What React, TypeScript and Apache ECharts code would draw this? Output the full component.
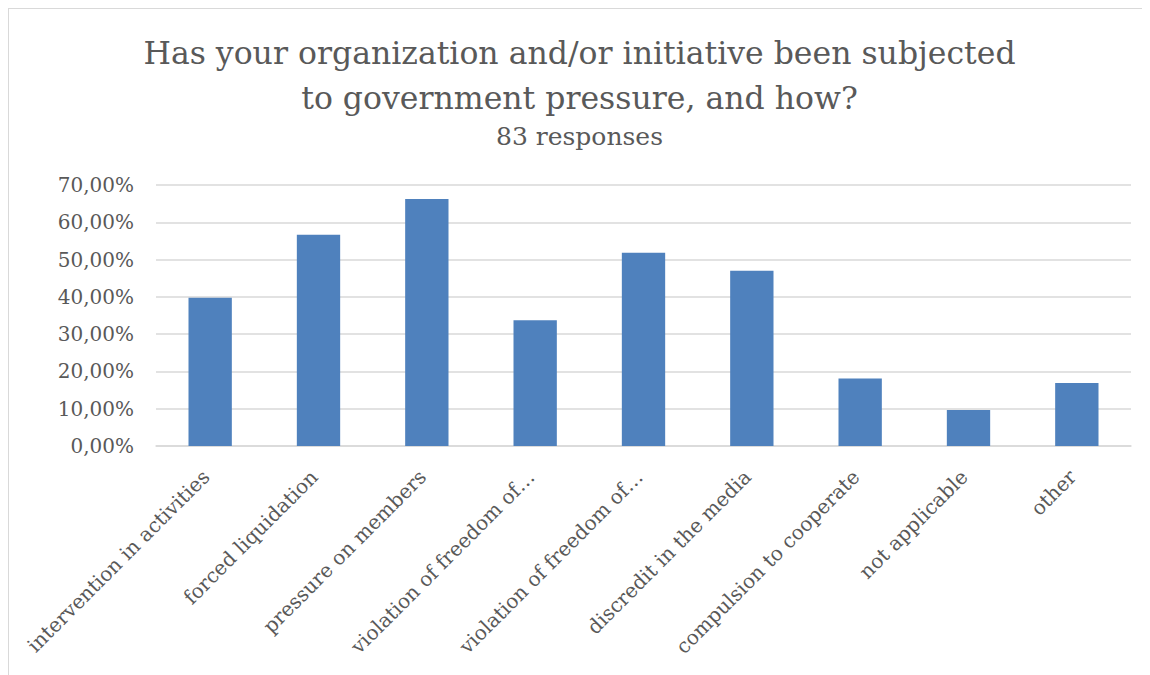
import React, { useEffect, useRef } from "react";
import * as echarts from "echarts";

const titleLines = [
  "Has your organization and/or initiative been subjected",
  "to government pressure, and how?",
];
const subtitle = "83 responses";
const categories = [
  "intervention in activities",
  "forced liquidation",
  "pressure on members",
  "violation of freedom of…",
  "violation of freedom of…",
  "discredit in the media",
  "compulsion to cooperate",
  "not applicable",
  "other",
];
const values = [39.76, 56.63, 66.27, 33.73, 51.81, 46.99, 18.07, 9.64, 16.87];
const yMin = 0;
const yMax = 70;
const yInterval = 10;

const FONT = "'DejaVu Serif', 'Liberation Serif', serif";
const GREY = "#595959";

export default function App() {
  const ref = useRef<HTMLDivElement>(null);
  useEffect(() => {
    const chart = echarts.init(ref.current!, undefined, { renderer: "svg" });
    chart.setOption({
      animation: false,
      title: [
        {
          text: titleLines.join("\n"),
          left: "center",
          top: 21,
          padding: [0, 0, 0, 8],
          textStyle: {
            fontFamily: FONT,
            fontSize: 31.5,
            fontWeight: "normal",
            color: GREY,
            lineHeight: 45,
          },
        },
        {
          text: subtitle,
          left: "center",
          top: 112,
          padding: [0, 0, 0, 7],
          textStyle: {
            fontFamily: FONT,
            fontSize: 25,
            fontWeight: "normal",
            color: GREY,
            lineHeight: 30,
          },
        },
      ],
      grid: { left: 147, right: 19, top: 176, bottom: 229, containLabel: false },
      xAxis: {
        type: "category",
        data: categories,
        axisLine: { show: true, lineStyle: { color: "#d9d9d9", width: 1.5 } },
        axisTick: { show: false },
        axisLabel: {
          rotate: 45,
          interval: 0,
          margin: 9,
          align: "right",
          verticalAlign: "top",
          padding: [0, 16, 0, 0],
          fontFamily: FONT,
          fontSize: 20,
          color: GREY,
        },
      },
      yAxis: {
        type: "value",
        min: yMin,
        max: yMax,
        interval: yInterval,
        axisLine: { show: false },
        axisTick: { show: false },
        splitLine: { lineStyle: { color: "#d9d9d9", width: 1.5 } },
        axisLabel: {
          margin: 22,
          fontFamily: FONT,
          fontSize: 20,
          color: GREY,
          formatter: (v: number) => v.toFixed(2).replace(".", ",") + "%",
        },
      },
      series: [
        {
          type: "bar",
          data: values,
          barWidth: "40%",
          itemStyle: { color: "#4F81BD" },
        },
      ],
    });
    return () => chart.dispose();
  }, []);
  return (
    <div
      ref={ref}
      style={{
        width: 1142,
        height: 667,
        borderLeft: "1px solid #d9d9d9",
        borderTop: "1px solid #d9d9d9",
        boxSizing: "border-box",
        overflow: "hidden",
      }}
    />
  );
}
